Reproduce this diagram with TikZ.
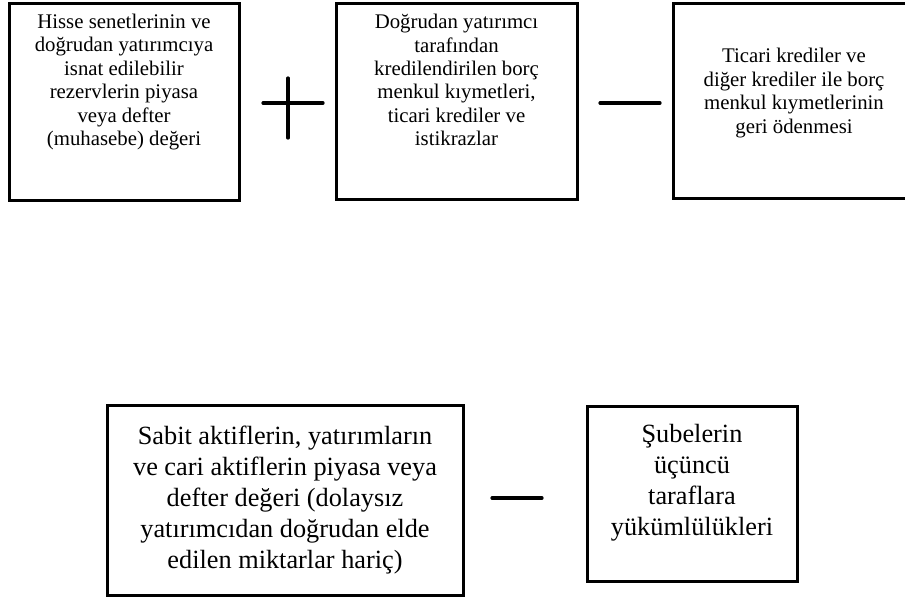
\documentclass[tikz,border=0pt]{standalone}
\usepackage{fontspec}
\setmainfont{Liberation Serif}
\usetikzlibrary{positioning}

\tikzset{
  kutu/.style={draw, line width=3pt, inner sep=0pt},
  ustmetin/.style={align=center, font=\fontsize{20.8}{23.4}\selectfont},
  altmetin/.style={align=center, font=\fontsize{26.3}{30.9}\selectfont},
  isaret/.style={line width=3.2pt, line cap=round}
}

\begin{document}
\begin{tikzpicture}[x=1pt,y=-1pt]
\useasboundingbox (0,0) rectangle (905,600);
\clip (0,0) rectangle (905,600);
% upper row
\node[kutu, minimum width=230pt, minimum height=197pt] (kutuA) at (124,101.5) {};
\node[ustmetin] (metinA) at (124,82) {Hisse senetlerinin ve\\doğrudan yatırımcıya\\isnat edilebilir\\rezervlerin piyasa\\veya defter\\(muhasebe) değeri};
\node[kutu, minimum width=241pt, minimum height=196pt] (kutuB) at (456.5,101) {};
\node[ustmetin] (metinB) at (456.5,80) {Doğrudan yatırımcı\\tarafından\\kredilendirilen borç\\menkul kıymetleri,\\ticari krediler ve\\istikrazlar};
\node[kutu, minimum width=242pt, minimum height=195pt] (kutuC) at (794,100.5) {};
\node[ustmetin] (metinC) at (794,93) {Ticari krediler ve\\diğer krediler ile borç\\menkul kıymetlerinin\\geri ödenmesi};
% plus and minus
\draw[isaret] (263,103) -- (323,103);
\draw[isaret] (288,78) -- (288,138);
\draw[isaret] (600,103) -- (660,103);
% lower row
\node[kutu, minimum width=356pt, minimum height=190pt] (kutuD) at (285,500) {};
\node[altmetin] (metinD) at (285,500) {Sabit aktiflerin, yatırımların\\ve cari aktiflerin piyasa veya\\defter değeri (dolaysız\\yatırımcıdan doğrudan elde\\edilen miktarlar hariç)};
\node[kutu, minimum width=210pt, minimum height=175pt] (kutuE) at (692,493.5) {};
\node[altmetin] (metinE) at (692,483) {Şubelerin\\üçüncü\\taraflara\\yükümlülükleri};
\draw[isaret] (492,498) -- (542,498);
\end{tikzpicture}
\end{document}
